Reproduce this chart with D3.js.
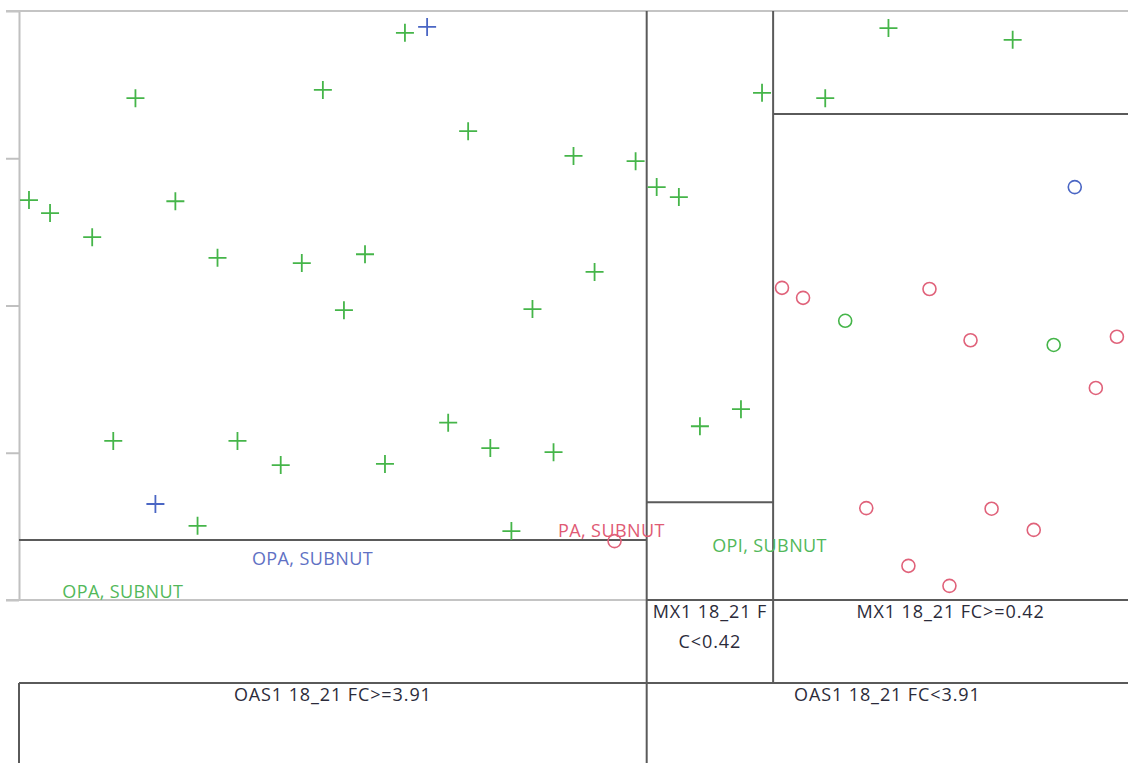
<!DOCTYPE html>
<html lang="en">
<head>
<meta charset="UTF-8">
<title>Partition plot</title>
<script src="https://d3js.org/d3.v7.min.js"></script>
<style>
  body { margin: 0; background: #fff; }
  svg { display: block; font-family: "Open Sans", "Noto Sans", sans-serif; }
  .frame { stroke: #c4c4c4; stroke-width: 2; fill: none; }
  .split { stroke: #5a5a5a; stroke-width: 2; fill: none; }
  .axis path, .axis line { stroke: #c0c0c0; stroke-width: 2; }
  .lbl { font-size: 18px; fill: #2b2b3a; letter-spacing: 0.9px; }
  .leaf { font-size: 18px; letter-spacing: 0.4px; }
</style>
</head>
<body>
<div id="chart"></div>
<script>
// points, x/y on a 0-1 scale
var greenPlusX = [0.348, 0.105, 0.274, 0.405, 0.500, 0.556, 0.575, 0.595, 0.009, 0.028, 0.141, 0.066, 0.179, 0.255, 0.312, 0.293, 0.463, 0.519, 0.085, 0.197, 0.236, 0.330, 0.387, 0.425, 0.482, 0.161, 0.444, 0.614, 0.651, 0.670, 0.727, 0.784, 0.896];
var greenPlusY = [0.963, 0.852, 0.866, 0.796, 0.754, 0.745, 0.701, 0.684, 0.679, 0.657, 0.677, 0.616, 0.581, 0.572, 0.587, 0.492, 0.494, 0.557, 0.270, 0.270, 0.229, 0.231, 0.301, 0.258, 0.251, 0.126, 0.117, 0.295, 0.324, 0.861, 0.852, 0.971, 0.951];
var bluePlusX = [0.368, 0.123];
var bluePlusY = [0.973, 0.163];
var redCircleX = [0.688, 0.707, 0.821, 0.858, 0.990, 0.971, 0.764, 0.877, 0.915, 0.802, 0.839, 0.537];
var redCircleY = [0.530, 0.513, 0.528, 0.441, 0.447, 0.360, 0.156, 0.155, 0.119, 0.058, 0.024, 0.100];
var greenCircleX = [0.745, 0.933];
var greenCircleY = [0.474, 0.433];
var blueCircleX = [0.952];
var blueCircleY = [0.701];

// partition: column edges and the split level inside each column
var colEdges = [0, 0.566, 0.680, 1];
var colSplits = [0.102, 0.166, 0.825];

// leaf labels
var leafText = ["OPA, SUBNUT", "OPA, SUBNUT", "PA, SUBNUT", "OPI, SUBNUT"];
var leafX = [0.210, 0.039, 0.486, 0.625];
var leafY = [0.059, 0.003, 0.107, 0.081];
var leafGroup = ["blue", "green", "red", "green"];

// split labels
var mxLabels = [["MX1 18_21 F", "C<0.42"], ["MX1 18_21 FC>=0.42"]];
var oasLabels = ["OAS1 18_21 FC>=3.91", "OAS1 18_21 FC<3.91"];
var yTicks = [0, 0.25, 0.5, 0.75, 1];

var W = 1128, H = 763;
var mLeft = 19, mRight = 1128, mTop = 11, plotBottom = 600, mxBottom = 683;

var markColor = { green: "#45b549", blue: "#4a66c4", red: "#e0627a" };
var textColor = { green: "#52b85a", blue: "#5f71c4", red: "#e05a74" };

var x = d3.scaleLinear().domain([0, 1]).range([mLeft, mRight]);
var y = d3.scaleLinear().domain([0, 1]).range([plotBottom, mTop]);

var svg = d3.select("#chart").append("svg")
    .attr("width", W)
    .attr("height", H);

// left axis, ticks without labels
svg.append("g")
    .attr("class", "axis")
    .attr("transform", "translate(" + mLeft + ",0)")
    .call(d3.axisLeft(y).tickValues(yTicks).tickFormat("").tickSize(13).tickSizeOuter(0));

svg.append("line").attr("class", "frame")
    .attr("x1", 6).attr("x2", mRight).attr("y1", y(1)).attr("y2", y(1));
svg.append("line").attr("class", "frame")
    .attr("x1", 6).attr("x2", mRight).attr("y1", y(0)).attr("y2", y(0));

// column split lines
svg.append("line").attr("class", "split")
    .attr("x1", x(colEdges[1])).attr("x2", x(colEdges[1]))
    .attr("y1", mTop).attr("y2", H);
svg.append("line").attr("class", "split")
    .attr("x1", x(colEdges[2])).attr("x2", x(colEdges[2]))
    .attr("y1", mTop).attr("y2", mxBottom);

// horizontal splits inside each column
colSplits.forEach(function (s, i) {
    svg.append("line").attr("class", "split")
        .attr("x1", x(colEdges[i])).attr("x2", x(colEdges[i + 1]))
        .attr("y1", y(s)).attr("y2", y(s));
});

// MX1 row
svg.append("line").attr("class", "split")
    .attr("x1", x(colEdges[1])).attr("x2", mRight)
    .attr("y1", plotBottom).attr("y2", plotBottom);
// OAS1 row
svg.append("line").attr("class", "split")
    .attr("x1", mLeft).attr("x2", mRight)
    .attr("y1", mxBottom).attr("y2", mxBottom);
svg.append("line").attr("class", "split")
    .attr("x1", mLeft).attr("x2", mLeft)
    .attr("y1", mxBottom).attr("y2", H);

mxLabels.forEach(function (lines, i) {
    var cx = (x(colEdges[i + 1]) + x(colEdges[i + 2])) / 2;
    lines.forEach(function (t, j) {
        svg.append("text").attr("class", "lbl")
            .attr("x", cx).attr("y", plotBottom + 18 + j * 30)
            .attr("text-anchor", "middle")
            .text(t);
    });
});

oasLabels.forEach(function (t, i) {
    var cx = i === 0 ? (x(colEdges[0]) + x(colEdges[1])) / 2 : (x(colEdges[1]) + x(colEdges[3])) / 2;
    svg.append("text").attr("class", "lbl")
        .attr("x", cx).attr("y", mxBottom + 18)
        .attr("text-anchor", "middle")
        .text(t);
});

// markers
function drawPlus(xs, ys, col) {
    svg.selectAll(null)
        .data(xs.map(function (v, i) { return [v, ys[i]]; }))
        .enter().append("path")
        .attr("d", "M-9,0H9M0,-9V9")
        .attr("transform", function (d) { return "translate(" + x(d[0]) + "," + y(d[1]) + ")"; })
        .attr("stroke", col)
        .attr("stroke-width", 1.8)
        .attr("fill", "none");
}
function drawCircle(xs, ys, col) {
    svg.selectAll(null)
        .data(xs.map(function (v, i) { return [v, ys[i]]; }))
        .enter().append("circle")
        .attr("cx", function (d) { return x(d[0]); })
        .attr("cy", function (d) { return y(d[1]); })
        .attr("r", 6.5)
        .attr("stroke", col)
        .attr("stroke-width", 1.6)
        .attr("fill", "none");
}

// leaf labels (under markers)
leafText.forEach(function (t, i) {
    svg.append("text").attr("class", "leaf")
        .attr("x", x(leafX[i])).attr("y", y(leafY[i]))
        .attr("fill", textColor[leafGroup[i]])
        .text(t);
});

drawPlus(greenPlusX, greenPlusY, markColor.green);
drawPlus(bluePlusX, bluePlusY, markColor.blue);
drawCircle(redCircleX, redCircleY, markColor.red);
drawCircle(greenCircleX, greenCircleY, markColor.green);
drawCircle(blueCircleX, blueCircleY, markColor.blue);
</script>
</body>
</html>
